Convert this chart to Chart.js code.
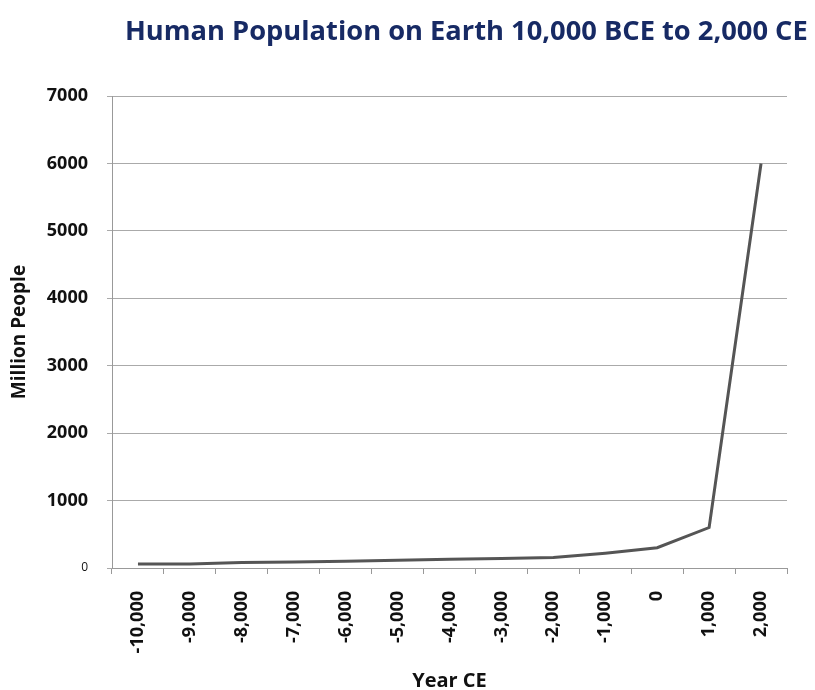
<!DOCTYPE html>
<html>
<head>
<meta charset="utf-8">
<script src="https://cdn.jsdelivr.net/npm/chart.js@4/dist/chart.umd.min.js"></script>
<style>
  html, body { margin: 0; padding: 0; background: #ffffff; }
  #wrap { position: relative; width: 815px; height: 690px; overflow: hidden; }
  #c { position: absolute; left: 0; top: 0; }
  #title {
    position: absolute; left: 125px; top: 16px;
    white-space: nowrap; font-family: "Open Sans", sans-serif; font-weight: 700;
    font-size: 27px; line-height: 27px; color: #172a64; transform-origin: 0 0;
  }
</style>
</head>
<body>
<div id="wrap">
  <canvas id="c" width="815" height="690"></canvas>
  <div id="title">Human Population on Earth 10,000 BCE to 2,000 CE</div>
</div>
<script>
// Year labels along the bottom axis
const years = ['-10,000', '-9.000', '-8,000', '-7,000', '-6,000', '-5,000', '-4,000',
               '-3,000', '-2,000', '-1,000', '0', '1,000', '2,000'];
// World population in millions for each year
const population = [60, 60, 80, 90, 100, 115, 130, 140, 155, 220, 300, 600, 6000];
// Value axis ticks
const yTicks = [0, 1000, 2000, 3000, 4000, 5000, 6000, 7000];

// Stretch the heading to its intended width
const titleEl = document.getElementById('title');
const titleWidth = 683;
titleEl.style.transform = 'scaleX(' + (titleWidth / titleEl.offsetWidth) + ')';

const FONT = '"Open Sans", sans-serif';

new Chart(document.getElementById('c'), {
  type: 'line',
  data: {
    labels: years,
    datasets: [{
      data: population,
      borderColor: '#555555',
      borderWidth: 3,
      pointRadius: 0,
      tension: 0,
      fill: false
    }]
  },
  options: {
    responsive: false,
    animation: false,
    layout: { padding: { left: 0, right: 28, top: 96, bottom: 0 } },
    plugins: { legend: { display: false }, tooltip: { enabled: false } },
    scales: {
      x: {
        type: 'category',
        offset: true,
        grid: {
          offset: true,
          drawOnChartArea: false,
          drawTicks: true,
          tickLength: 6,
          color: '#999999'
        },
        border: { display: true, color: '#999999', width: 1 },
        ticks: {
          minRotation: 90,
          maxRotation: 90,
          autoSkip: false,
          padding: 17,
          color: '#111111',
          font: { family: FONT, size: 18, weight: 'bold' }
        },
        title: {
          display: true,
          text: 'Year CE',
          color: '#111111',
          font: { family: FONT, size: 20, weight: 'bold' },
          padding: { top: 0, bottom: -3 }
        },
        afterFit: s => { s.height = 122; }
      },
      y: {
        min: 0,
        max: 7000,
        afterBuildTicks: s => { s.ticks = yTicks.map(v => ({ value: v })); },
        grid: {
          color: '#aaaaaa',
          lineWidth: 1,
          drawTicks: true,
          tickLength: 5
        },
        border: { display: true, color: '#999999', width: 1 },
        ticks: {
          padding: 19,
          color: '#111111',
          callback: v => String(v),
          font: ctx => (ctx.tick && ctx.tick.value === 0)
            ? { family: FONT, size: 12, weight: 'normal' }
            : { family: FONT, size: 18, weight: 'bold' }
        },
        title: {
          display: true,
          text: 'Million People',
          color: '#111111',
          font: { family: FONT, size: 19, weight: 'bold' },
          padding: { top: 8, bottom: 0 }
        },
        afterFit: s => { s.width = 112; }
      }
    }
  }
});
</script>
</body>
</html>
